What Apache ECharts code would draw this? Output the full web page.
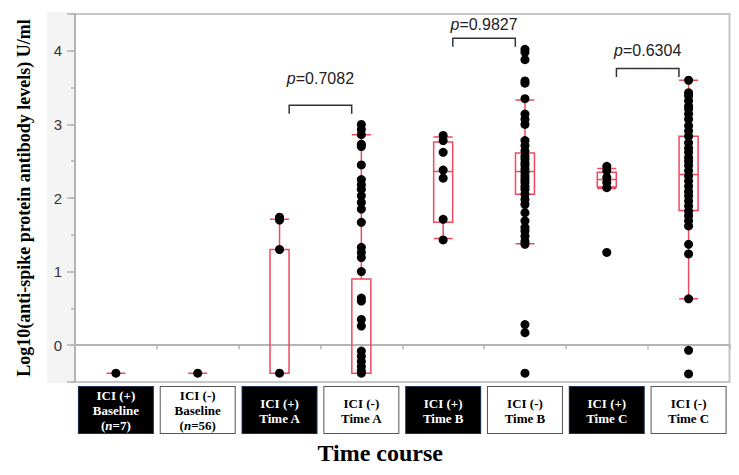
<!DOCTYPE html>
<html><head><meta charset="utf-8">
<script src="https://cdn.jsdelivr.net/npm/echarts@6/dist/echarts.min.js"></script>
<style>html,body{margin:0;padding:0;background:#fff}#c{width:739px;height:475px}</style>
</head><body><div id="c"></div>
<script>
// ---- data ----
const catLabelLines = [
  ['ICI (+)', 'Baseline', '(n=7)'],
  ['ICI (-)', 'Baseline', '(n=56)'],
  ['ICI (+)', 'Time A'],
  ['ICI (-)', 'Time A'],
  ['ICI (+)', 'Time B'],
  ['ICI (-)', 'Time B'],
  ['ICI (+)', 'Time C'],
  ['ICI (-)', 'Time C']
];
const categories = catLabelLines.map(l => l.join(' '));
const iciPositive = [true, false, true, false, true, false, true, false];

// [min, Q1, median, Q3, max]
const boxStats = [
  [-0.38, -0.38, -0.38, -0.38, -0.38],
  [-0.38, -0.38, -0.38, -0.38, -0.38],
  [-0.38, -0.38, -0.38, 1.30, 1.71],
  [-0.38, -0.38, -0.38, 0.90, 2.86],
  [1.45, 1.67, 2.36, 2.76, 2.83],
  [1.38, 2.05, 2.36, 2.61, 3.33],
  [2.13, 2.15, 2.25, 2.35, 2.40],
  [0.63, 1.83, 2.32, 2.84, 3.60]
];

const ptsBaselinePos = [-0.38];
const ptsBaselineNeg = [-0.38];
const ptsTimeAPos = [1.74, 1.70, 1.30, -0.38];
const ptsTimeANeg = [3.00, 2.93, 2.86, 2.73, 2.70, 2.45, 2.25, 2.18, 2.12, 2.03, 1.94, 1.85, 1.67, 1.33, 1.26, 1.19, 1.00, 0.64, 0.60, 0.35, 0.26, -0.08, -0.15, -0.22, -0.29, -0.35, -0.38];
const ptsTimeBPos = [2.85, 2.78, 2.62, 2.38, 2.27, 1.71, 1.43];
const ptsTimeBNeg = [4.02, 3.98, 3.88, 3.59, 3.56, 3.35, 3.14, 3.07, 3.00, 2.78, 2.71, 2.64, 2.57, 2.53, 2.48, 2.44, 2.39, 2.35, 2.30, 2.25, 2.21, 2.16, 2.12, 2.05, 1.98, 1.91, 1.80, 1.69, 1.60, 1.55, 1.48, 1.41, 1.37, 0.28, 0.17, -0.38];
const ptsTimeCPos = [2.43, 2.37, 2.28, 2.21, 2.14, 1.26];
const ptsTimeCNeg = [3.60, 3.43, 3.39, 3.32, 3.25, 3.21, 3.14, 3.07, 2.98, 2.91, 2.84, 2.75, 2.68, 2.62, 2.55, 2.50, 2.44, 2.37, 2.30, 2.23, 2.16, 2.09, 2.03, 1.96, 1.89, 1.82, 1.76, 1.69, 1.62, 1.37, 1.24, 0.63, -0.07, -0.39];
const points = [ptsBaselinePos, ptsBaselineNeg, ptsTimeAPos, ptsTimeANeg, ptsTimeBPos, ptsTimeBNeg, ptsTimeCPos, ptsTimeCNeg];

// p-value comparisons: left category index of each pair
const pairLeft = [2, 4, 6];
const pValues = ['0.7082', '0.9827', '0.6304'];
const bracketY = [3.26, 4.17, 3.76];
const pTextY = [3.62, 4.36, 4.01];

const yTitle = 'Log10(anti-spike protein antibody levels) U/ml';
const xTitle = 'Time course';

// ---- chart ----
const RED = '#ef4a5f';
const AXIS = '#b4b4b4';
const serif = '"Liberation Serif", "Times New Roman", serif';
const sans = '"Liberation Sans", Arial, sans-serif';

function fmtLine(line, s) {
  const m = line.match(/^\(n(=.*)\)$/);
  if (m) return '{' + s + '|(}{' + s + 'i|n}{' + s + '|' + m[1] + ')}';
  return '{' + s + '|' + line + '}';
}

const xData = categories.map((c, i) => {
  const three = catLabelLines[i].length === 3;
  return {
    value: c,
    textStyle: iciPositive[i]
      ? { backgroundColor: '#000', borderColor: '#1f3355', borderWidth: 1, width: 74, padding: three ? [1, 0, 0, 0] : [9, 0, 7, 0] }
      : { backgroundColor: '#fff', borderColor: '#555', borderWidth: 1, width: 74, padding: three ? [1, 0, 0, 0] : [9, 0, 7, 0] }
  };
});

const tok = (color, italic) => ({ fontFamily: serif, fontWeight: 'bold', fontSize: 13, lineHeight: 15, color: color, fontStyle: italic ? 'italic' : 'normal', align: 'center' });

const scatterData = [];
points.forEach((arr, i) => arr.forEach(v => scatterData.push([i, v])));

const chart = echarts.init(document.getElementById('c'), null, { renderer: 'svg' });
chart.setOption({
  animation: false,
  backgroundColor: '#fff',
  grid: { left: 75, right: 9.5, top: 14, bottom: 93, show: true, borderColor: '#c6c6c6', borderWidth: 2, backgroundColor: 'transparent' },
  graphic: [{ type: 'rect', left: 47, top: 12, z: -10, silent: true, shape: { width: 28, height: 371 }, style: { fill: '#f4f4f4' } }],
  xAxis: {
    type: 'category',
    data: xData,
    boundaryGap: true,
    axisLine: { lineStyle: { color: AXIS, width: 2 } },
    axisTick: { show: true, length: 4, lineStyle: { color: AXIS, width: 1.5 } },
    axisLabel: {
      interval: 0, margin: 5,
      formatter: (v, idx) => {
        const s = iciPositive[idx] ? 'w' : 'k';
        return catLabelLines[idx].map(l => fmtLine(l, s)).join('\n');
      },
      rich: { w: tok('#fff', false), wi: tok('#fff', true), k: tok('#000', false), ki: tok('#000', true) }
    },
    splitLine: { show: false },
    name: xTitle, nameLocation: 'middle', nameGap: 59,
    nameTextStyle: { fontFamily: serif, fontWeight: 'bold', fontSize: 24, color: '#000', padding: [0, 44, 0, 0] }
  },
  yAxis: [{
    type: 'value', min: -0.5, max: 4.5, interval: 0.5,
    axisLine: { show: true, lineStyle: { color: AXIS, width: 2 } },
    axisTick: { show: true, length: 4, lineStyle: { color: AXIS, width: 1.5 } },
    axisLabel: { margin: 13, fontFamily: sans, fontSize: 15, color: '#333',
      formatter: v => (Math.abs(v - Math.round(v)) < 1e-9 ? String(Math.round(v)) : '') },
    splitLine: { show: false },
    name: yTitle, nameLocation: 'middle', nameGap: 42,
    nameTextStyle: { fontFamily: serif, fontWeight: 'bold', fontSize: 18, color: '#000' }
  }, {
    type: 'value', min: -0.5, max: 4.5, position: 'left',
    axisLine: { show: false },
    axisTick: { show: true, length: 8, lineStyle: { color: AXIS, width: 1.5 } },
    axisLabel: { show: false },
    splitLine: { show: false }
  }],
  series: [{
    type: 'boxplot',
    data: boxStats,
    boxWidth: [19, 19],
    itemStyle: { color: 'rgba(0,0,0,0)', borderColor: RED, borderWidth: 1.5 },
    emphasis: { disabled: true },
    z: 2
  }, {
    type: 'scatter',
    data: scatterData,
    symbolSize: 9,
    itemStyle: { color: '#000', opacity: 1 },
    emphasis: { disabled: true },
    z: 3
  }, {
    type: 'custom',
    data: pairLeft.map((l, i) => [l, l + 1, bracketY[i], pTextY[i]]),
    encode: { x: [0, 1], y: [2, 3] },
    z: 4,
    renderItem: (params, api) => {
      const a = api.coord([api.value(0), api.value(2)]);
      const b = api.coord([api.value(1), api.value(2)]);
      const t = api.coord([api.value(0), api.value(3)]);
      const mid = (a[0] + b[0]) / 2;
      const half = (b[0] - a[0]) * 0.382;
      const drop = 8.5;
      return {
        type: 'group',
        children: [{
          type: 'polyline',
          shape: { points: [[mid - half, a[1] + drop], [mid - half, a[1]], [mid + half, a[1]], [mid + half, a[1] + drop]] },
          style: { stroke: '#333', lineWidth: 1.5, fill: null }
        }, {
          type: 'text',
          x: mid, y: t[1],
          style: {
            text: '{i|p}{n|=' + pValues[params.dataIndex] + '}',
            align: 'center', verticalAlign: 'middle',
            rich: {
              i: { fontFamily: sans, fontSize: 16, fontStyle: 'italic', fill: '#222' },
              n: { fontFamily: sans, fontSize: 16, fill: '#222' }
            }
          }
        }]
      };
    }
  }]
});
</script>
</body></html>
